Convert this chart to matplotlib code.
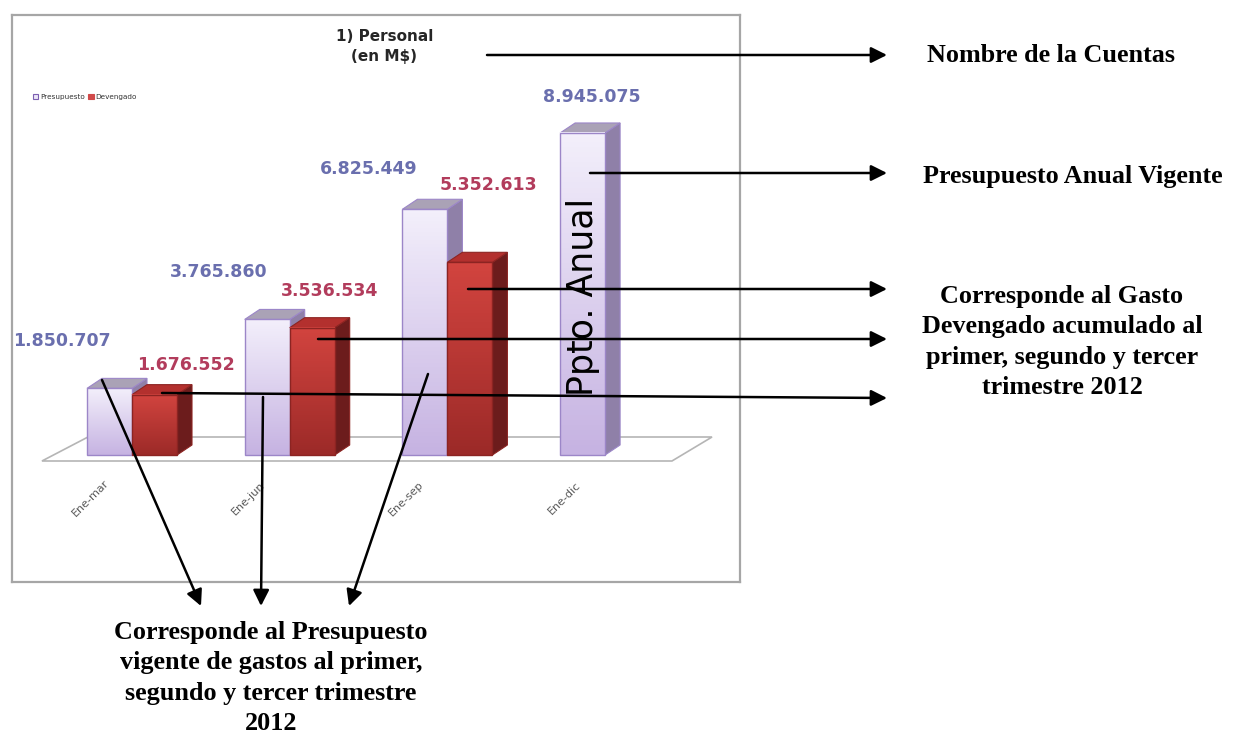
import numpy as np
import matplotlib.pyplot as plt
from matplotlib.colors import to_rgb
from matplotlib.patches import Polygon, Rectangle

# Datos de la cuenta 1) Personal (en M$)
periodos = ["Ene-mar", "Ene-jun", "Ene-sep", "Ene-dic"]
presupuesto = [1850707, 3765860, 6825449, 8945075]
devengado = [1676552, 3536534, 5352613, np.nan]

# desplazamiento de las etiquetas de valor (pixeles) respecto a la cara frontal
off_pres = [(-48, 47), (-49, 47), (-56, 40), (9, 36)]
off_dev = [(31, 30), (17, 37), (19, 77), (0, 0)]

W, H = 1235, 738
fig = plt.figure(figsize=(W / 100, H / 100), dpi=100)
fig.patch.set_facecolor("white")

# ---- area del grafico (el marco del eje es el borde del recuadro) ----
box = (12, 15, 740, 582)  # izq, arriba, der, abajo en pixeles
ax = fig.add_axes([box[0] / W, 1 - box[3] / H, (box[2] - box[0]) / W, (box[3] - box[1]) / H])
px_x = 157.7          # pixeles por categoria
px_y = 36.0 / 1e6     # pixeles por peso
x0_px, y0_px = 132, 455
ax.set_xlim((box[0] - x0_px) / px_x, (box[2] - x0_px) / px_x)
ax.set_ylim(-(box[3] - y0_px) / px_y, (y0_px - box[1]) / px_y)
ax.set_xticks([])
ax.set_yticks([])
for s in ax.spines.values():
    s.set_color("#a6a6a6")
    s.set_linewidth(1.6)

bw = 45 / px_x
dx = 15 / px_x
dy = 10 / px_y

# piso en perspectiva
n = len(periodos)
floor = Polygon([(-0.571, -6 / px_y), (-0.279, 18 / px_y), (n - 0.322, 18 / px_y), (n - 0.576, -6 / px_y)],
                closed=True, facecolor="white", edgecolor="#b5b5b5", lw=1.2, zorder=1)
ax.add_patch(floor)


def bar3d(xl, h, front_top, front_bot, side, top, edge, z):
    xr = xl + bw
    ax.add_patch(Polygon([(xr, 0), (xr + dx, dy), (xr + dx, h + dy), (xr, h)],
                         facecolor=side, edgecolor=edge, lw=0.8, zorder=z))
    ax.add_patch(Polygon([(xl, h), (xl + dx, h + dy), (xr + dx, h + dy), (xr, h)],
                         facecolor=top, edgecolor=edge, lw=0.8, zorder=z))
    grad = np.linspace(0, 1, 64)[:, None, None]
    img = np.array(to_rgb(front_top)) * (1 - grad) + np.array(to_rgb(front_bot)) * grad
    ax.imshow(img, extent=[xl, xr, 0, h], origin="upper", aspect="auto", zorder=z + 0.1)
    ax.add_patch(Rectangle((xl, 0), bw, h, facecolor="none", edgecolor=edge, lw=1.0, zorder=z + 0.2))


for i in range(n):
    xp = i - bw
    bar3d(xp, presupuesto[i], "#f3effb", "#c6b3e2", "#8f80a8", "#aaa2b6", "#9c86c8", 2 + i)
    ax.annotate(f"{presupuesto[i]:,}".replace(",", "."), (xp + bw / 2, presupuesto[i]),
                xytext=off_pres[i], textcoords="offset pixels", ha="center", va="center",
                fontsize=12.5, fontweight="bold", color="#6a6fae", zorder=20)
    if not np.isnan(devengado[i]):
        bar3d(i, devengado[i], "#d2443f", "#9c2a28", "#6c1c1c", "#b3302e", "#8c2422", 2.5 + i)
        ax.annotate(f"{int(devengado[i]):,}".replace(",", "."), (i + bw / 2, devengado[i]),
                    xytext=off_dev[i], textcoords="offset pixels", ha="center", va="center",
                    fontsize=12.5, fontweight="bold", color="#b23c5c", zorder=20)
    ax.text(i - 0.26, -1.2e6, periodos[i], rotation=45, ha="center", va="center",
            fontsize=8, color="#595959")

ax.text(n - 1 - bw / 2, presupuesto[-1] * 0.49, "Ppto. Anual", rotation=90, ha="center",
        va="center", fontsize=25, color="black", zorder=20)

ax.text(1.6, 11.35e6, "1) Personal\n(en M$)", ha="center", va="center", fontsize=11,
        fontweight="bold", color="#262626", family=["Liberation Sans Narrow", "DejaVu Sans"],
        linespacing=1.45)

handles = [Rectangle((0, 0), 1, 1, facecolor="#ece6f8", edgecolor="#7c5fb0", lw=0.8),
           Rectangle((0, 0), 1, 1, facecolor="#d04a4a", edgecolor="#d04a4a", lw=0.8)]
ax.legend(handles, ["Presupuesto", "Devengado"], loc="center left",
          bbox_to_anchor=(29 / W, 1 - 97 / H), bbox_transform=fig.transFigure,
          ncol=2, fontsize=5.2, frameon=False, handlelength=0.8, handleheight=0.8,
          handletextpad=0.2, columnspacing=0.5, borderpad=0, labelcolor="#333333")

# ---- anotaciones exteriores (coordenadas de pixel) ----
ov = fig.add_axes([0, 0, 1, 1], zorder=30)
ov.set_xlim(0, W)
ov.set_ylim(H, 0)
ov.axis("off")
ov.patch.set_visible(False)

arr = dict(arrowstyle="-|>", color="black", lw=1.8, mutation_scale=24, shrinkA=0, shrinkB=0)
flechas = [((487, 55), (887, 55)), ((590, 173), (887, 173)), ((468, 289), (887, 289)),
           ((318, 339), (887, 339)), ((162, 393), (887, 398)),
           ((102, 380), (201, 606)), ((263, 397), (261, 606)), ((428, 374), (349, 606))]
for a, b in flechas:
    ov.annotate("", xy=b, xytext=a, arrowprops=arr)

serif = dict(family=["Liberation Serif", "DejaVu Serif"], fontweight="bold", fontsize=18.8,
             color="black", ha="center", va="center")
ov.text(1051, 55, "Nombre de la Cuentas", **serif)
ov.text(1073, 176, "Presupuesto Anual Vigente", **serif)
ov.text(1062, 342, "Corresponde al Gasto\nDevengado acumulado al\nprimer, segundo y tercer\ntrimestre 2012",
        linespacing=1.42, **serif)
ov.text(271, 678, "Corresponde al Presupuesto\nvigente de gastos al primer,\nsegundo y tercer trimestre\n2012",
        linespacing=1.42, **serif)

fig.savefig("out.png", dpi=100)
